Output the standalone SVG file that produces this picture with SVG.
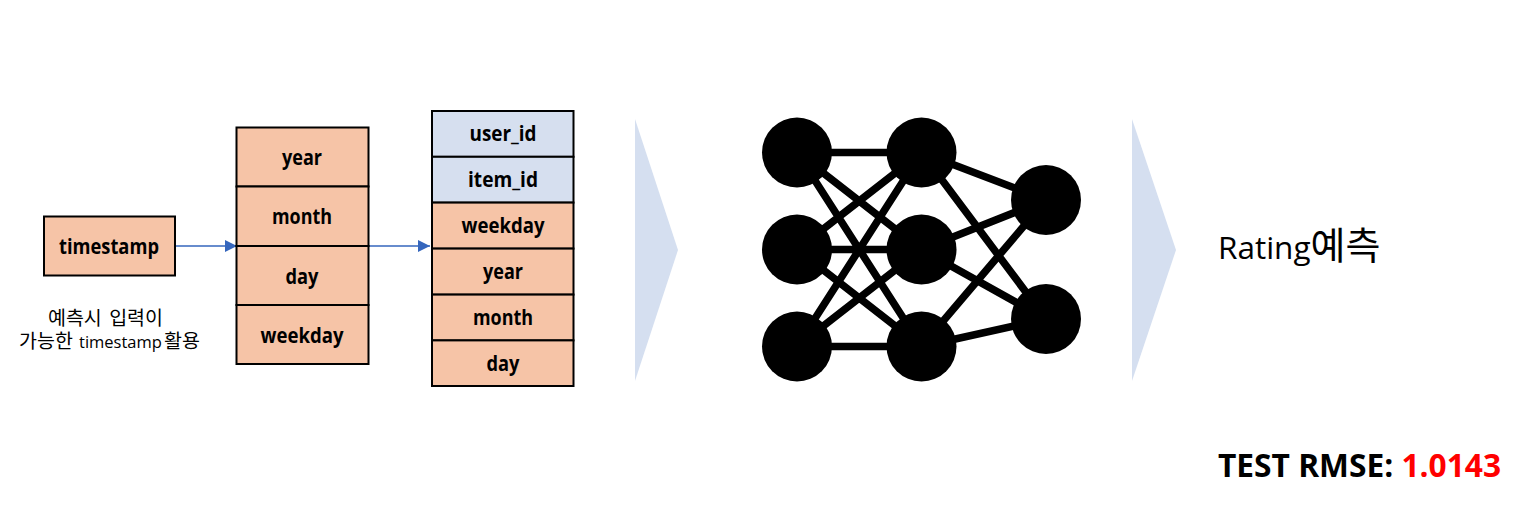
<svg xmlns="http://www.w3.org/2000/svg" width="1515" height="508" viewBox="0 0 1515 508">
<style>
text{font-family:"Open Sans","Noto Sans CJK KR",sans-serif;fill:#000}
.b{font-weight:700;font-size:20.500px;text-anchor:middle}
.o{fill:#f6c4a7;stroke:#000;stroke-width:2}
.u{fill:#d6dfef;stroke:#000;stroke-width:2}
.tri{fill:#d5dff0}
.e{stroke:#000;stroke-width:7.500;fill:none}
.n{fill:#000}
.a{stroke:#3566bd;stroke-width:1.300;fill:none;marker-end:url(#m)}
.h{font-family:"Noto Sans CJK KR",sans-serif;font-size:19.500px}
.l{font-family:"Open Sans",sans-serif;font-size:16.500px}
</style>
<defs><marker id="m" markerUnits="userSpaceOnUse" markerWidth="13" markerHeight="13" refX="12" refY="6" orient="auto"><path d="M0 0L12 6L0 12Z" fill="#3566bd"/></marker></defs>
<rect width="1515" height="508" fill="#fff"/>
<g id="connectors">
<path class="a" d="M175 246H237"/>
<path class="a" d="M369 246H430"/>
<path class="e" d="M797 152.500H921.500M797 249.500H921.500M797 346.500H921.500M797 152.500L921.500 249.500M797 152.500L921.500 346.500M797 249.500L921.500 152.500M797 249.500L921.500 346.500M797 346.500L921.500 152.500M797 346.500L921.500 249.500M921.500 152.500L1046 200M921.500 152.500L1046 319M921.500 249.500L1046 200M921.500 249.500L1046 319M921.500 346.500L1046 200M921.500 346.500L1046 319"/>
</g>
<g id="timestamp"><rect class="o" x="44" y="216.500" width="131" height="59"/><text class="b" x="109" y="254" textLength="100" lengthAdjust="spacingAndGlyphs">timestamp</text></g>
<g id="note"><text class="h" x="105.500" y="325" text-anchor="middle" word-spacing="3">예측시 입력이</text><text class="h" y="348"><tspan x="19">가능한</tspan><tspan class="l" x="79">timestamp</tspan><tspan x="164">활용</tspan></text></g>
<g id="split">
<rect class="o" x="236.500" y="127.500" width="132" height="59"/><text class="b" x="302" y="165" textLength="40" lengthAdjust="spacingAndGlyphs">year</text>
<rect class="o" x="236.500" y="186.500" width="132" height="59.500"/><text class="b" x="302" y="224" textLength="60" lengthAdjust="spacingAndGlyphs">month</text>
<rect class="o" x="236.500" y="246" width="132" height="59"/><text class="b" x="302" y="284" textLength="33" lengthAdjust="spacingAndGlyphs">day</text>
<rect class="o" x="236.500" y="305" width="132" height="59"/><text class="b" x="302" y="343" textLength="83" lengthAdjust="spacingAndGlyphs">weekday</text>
</g>
<g id="features">
<rect class="u" x="432" y="111" width="141.500" height="45.800"/><text class="b" x="503" y="141" textLength="67" lengthAdjust="spacingAndGlyphs">user_id</text>
<rect class="u" x="432" y="156.800" width="141.500" height="45.800"/><text class="b" x="503" y="187" textLength="70" lengthAdjust="spacingAndGlyphs">item_id</text>
<rect class="o" x="432" y="202.600" width="141.500" height="46"/><text class="b" x="503" y="233" textLength="83" lengthAdjust="spacingAndGlyphs">weekday</text>
<rect class="o" x="432" y="248.600" width="141.500" height="46"/><text class="b" x="503" y="279" textLength="40" lengthAdjust="spacingAndGlyphs">year</text>
<rect class="o" x="432" y="294.600" width="141.500" height="45.800"/><text class="b" x="503" y="325" textLength="60" lengthAdjust="spacingAndGlyphs">month</text>
<rect class="o" x="432" y="340.400" width="141.500" height="45.600"/><text class="b" x="503" y="371" textLength="33" lengthAdjust="spacingAndGlyphs">day</text>
</g>
<g id="chevron1"><path class="tri" d="M635 119L678 250L635 381Z"/></g>
<g id="network">
<circle class="n" cx="797" cy="152.500" r="35"/><circle class="n" cx="797" cy="249.500" r="35"/><circle class="n" cx="797" cy="346.500" r="35"/>
<circle class="n" cx="921.500" cy="152.500" r="35"/><circle class="n" cx="921.500" cy="249.500" r="35"/><circle class="n" cx="921.500" cy="346.500" r="35"/>
<circle class="n" cx="1046" cy="200" r="35"/><circle class="n" cx="1046" cy="319" r="35"/>
</g>
<g id="chevron2"><path class="tri" d="M1132 119L1176 250L1132 381Z"/></g>
<g id="result"><text x="1218" y="259" font-size="31.500">Rating<tspan font-size="38" style="font-family:'Noto Sans CJK KR',sans-serif">예측</tspan></text></g>
<g id="rmse"><text x="1218" y="477" font-size="31.700" font-weight="700">TEST RMSE: <tspan style="fill:#f00">1.0143</tspan></text></g>
</svg>
